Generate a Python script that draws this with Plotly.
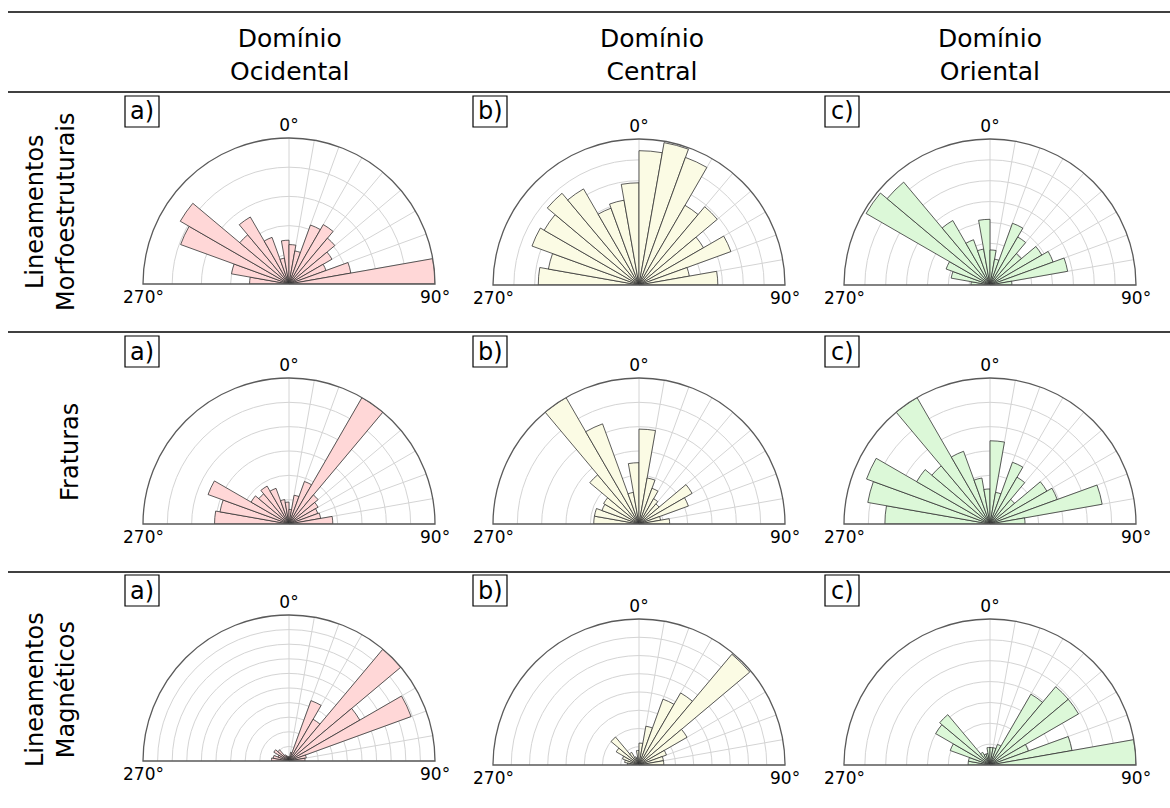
import plotly.graph_objects as go

W, H = 1170, 808

# 10-degree direction classes, from 270 clockwise through 0 to 90
bin_starts = [270, 280, 290, 300, 310, 320, 330, 340, 350,
              0, 10, 20, 30, 40, 50, 60, 70, 80]
bin_centers = [b + 5 for b in bin_starts]

col_titles = ["Domínio<br>Ocidental", "Domínio<br>Central", "Domínio<br>Oriental"]
row_titles = ["Lineamentos<br>Morfoestruturais", "Fraturas", "Lineamentos<br>Magnéticos"]
panel_tags = ["a)", "b)", "c)"]

# relative frequency per class (1.0 = outer circle)
morfo_ocidental = [0.27, 0.40, 0.79, 0.86, 0.44, 0.53, 0.34, 0.18, 0.30,
                   0.27, 0.23, 0.43, 0.47, 0.41, 0.34, 0.27, 0.43, 1.00]
morfo_central = [0.69, 0.63, 0.78, 0.75, 0.82, 0.76, 0.56, 0.59, 0.70,
                 0.92, 0.99, 0.93, 0.63, 0.70, 0.51, 0.67, 0.35, 0.54]
morfo_oriental = [0.13, 0.27, 0.32, 0.98, 0.92, 0.51, 0.33, 0.25, 0.45,
                  0.24, 0.18, 0.45, 0.38, 0.28, 0.41, 0.46, 0.54, 0.15]

frat_ocidental = [0.51, 0.48, 0.59, 0.30, 0.27, 0.30, 0.26, 0.17, 0.15,
                  0.10, 0.20, 0.31, 1.00, 0.26, 0.23, 0.21, 0.22, 0.30]
frat_central = [0.31, 0.31, 0.27, 0.28, 0.44, 1.00, 0.73, 0.22, 0.42,
                0.65, 0.32, 0.26, 0.20, 0.18, 0.42, 0.36, 0.15, 0.21]
frat_oriental = [0.72, 0.85, 0.90, 0.58, 0.52, 1.00, 0.53, 0.32, 0.24,
                 0.57, 0.22, 0.45, 0.37, 0.22, 0.45, 0.49, 0.78, 0.24]

mag_ocidental = [0.12, 0.11, 0.08, 0.12, 0.10, 0.05, 0.04, 0.03, 0.03,
                 0.03, 0.06, 0.44, 0.33, 1.00, 0.56, 0.89, 0.12, 0.11]
mag_central = [0.08, 0.10, 0.12, 0.18, 0.25, 0.10, 0.06, 0.05, 0.10,
               0.15, 0.27, 0.48, 0.57, 0.99, 0.38, 0.20, 0.17, 0.17]
mag_oriental = [0.15, 0.15, 0.29, 0.43, 0.45, 0.10, 0.08, 0.08, 0.12,
                0.12, 0.12, 0.15, 0.56, 0.70, 0.70, 0.28, 0.57, 1.00]

panel_values = [
    [morfo_ocidental, morfo_central, morfo_oriental],
    [frat_ocidental, frat_central, frat_oriental],
    [mag_ocidental, mag_central, mag_oriental],
]
# number of concentric circles drawn in each rose
ring_counts = [
    [5, 7, 7],
    [6, 6, 6],
    [10, 8, 7],
]

col_fill = ["#ffd7d7", "#fbfbe4", "#dcf8d8"]
edge_color = "#333333"

# rose placement (pixels): centre x per column, baseline y per row/column, radius
centre_x = [289, 639, 990]
centre_y = [[284, 285, 285], [524, 524, 524], [761, 765, 765]]
radius = 146

fig = go.Figure()
layout_polars = {}
annotations = []
shapes = []

k = 0
for r in range(3):
    for c in range(3):
        k += 1
        pname = "polar" if k == 1 else f"polar{k}"
        cx, cy = centre_x[c], centre_y[r][c]
        n = ring_counts[r][c]
        fig.add_trace(go.Barpolar(
            r=panel_values[r][c],
            theta=bin_centers,
            width=[10] * len(bin_centers),
            marker=dict(color=col_fill[c], line=dict(color=edge_color, width=0.8)),
            subplot=pname,
            showlegend=False,
            hoverinfo="skip",
        ))
        layout_polars[pname] = dict(
            domain=dict(x=[(cx - radius) / W, (cx + radius) / W],
                        y=[1 - cy / H, 1 - (cy - radius) / H]),
            sector=[0, 180],
            bgcolor="white",
            radialaxis=dict(range=[0, 1], dtick=1 / n, tick0=0, showticklabels=False,
                            ticks="", showline=False, gridcolor="#d4d4d4", gridwidth=0.8),
            angularaxis=dict(rotation=90, direction="clockwise",
                             tickmode="array",
                             tickvals=list(range(0, 360, 10)),
                             ticktext=["0°"] + [""] * 35,
                             ticks="", showline=True, linecolor="#5a5a5a", linewidth=1.3,
                             gridcolor="#d4d4d4", gridwidth=0.8,
                             tickfont=dict(family="DejaVu Sans", size=17, color="black")),
        )
        # end labels of the half-rose
        for txt, xpos in (("270°", cx - radius), ("90°", cx + radius)):
            annotations.append(dict(text=txt, x=xpos / W, y=1 - (cy + 13) / H,
                                    xref="paper", yref="paper", showarrow=False,
                                    xanchor="center", yanchor="middle",
                                    font=dict(family="DejaVu Sans", size=17, color="black")))

# panel letters in boxes
tag_x = [125, 473, 825]
tag_y = [96, 336, 575]
tag_w, tag_h = 34, 31
for r in range(3):
    for c in range(3):
        x0, y0 = tag_x[c], tag_y[r]
        shapes.append(dict(type="rect", xref="paper", yref="paper",
                           x0=x0 / W, x1=(x0 + tag_w) / W,
                           y0=1 - (y0 + tag_h) / H, y1=1 - y0 / H,
                           line=dict(color="black", width=1.2), fillcolor="white"))
        annotations.append(dict(text=panel_tags[c], x=(x0 + tag_w / 2) / W,
                                y=1 - (y0 + tag_h / 2) / H,
                                xref="paper", yref="paper", showarrow=False,
                                xanchor="center", yanchor="middle",
                                font=dict(family="DejaVu Sans", size=24, color="black")))

# column headers
head_x = [290, 652, 990]
for c in range(3):
    annotations.append(dict(text=col_titles[c], x=head_x[c] / W, y=1 - 55 / H,
                            xref="paper", yref="paper", showarrow=False,
                            xanchor="center", yanchor="middle",
                            font=dict(family="DejaVu Sans", size=25, color="black")))

# row headers
row_x = [50, 70, 50]
row_y = [212, 452, 690]
for r in range(3):
    annotations.append(dict(text=row_titles[r], x=row_x[r] / W, y=1 - row_y[r] / H,
                            xref="paper", yref="paper", showarrow=False, textangle=-90,
                            xanchor="center", yanchor="middle",
                            font=dict(family="DejaVu Sans", size=24, color="black")))

# table rules
for yy in (12, 92, 332, 572):
    shapes.append(dict(type="line", xref="paper", yref="paper",
                       x0=8 / W, x1=1.0, y0=1 - yy / H, y1=1 - yy / H,
                       line=dict(color="black", width=1.5)))

fig.update_layout(
    width=W, height=H,
    margin=dict(l=0, r=0, t=0, b=0),
    paper_bgcolor="white",
    annotations=annotations,
    shapes=shapes,
    **layout_polars,
)

fig.write_html("out.html")
